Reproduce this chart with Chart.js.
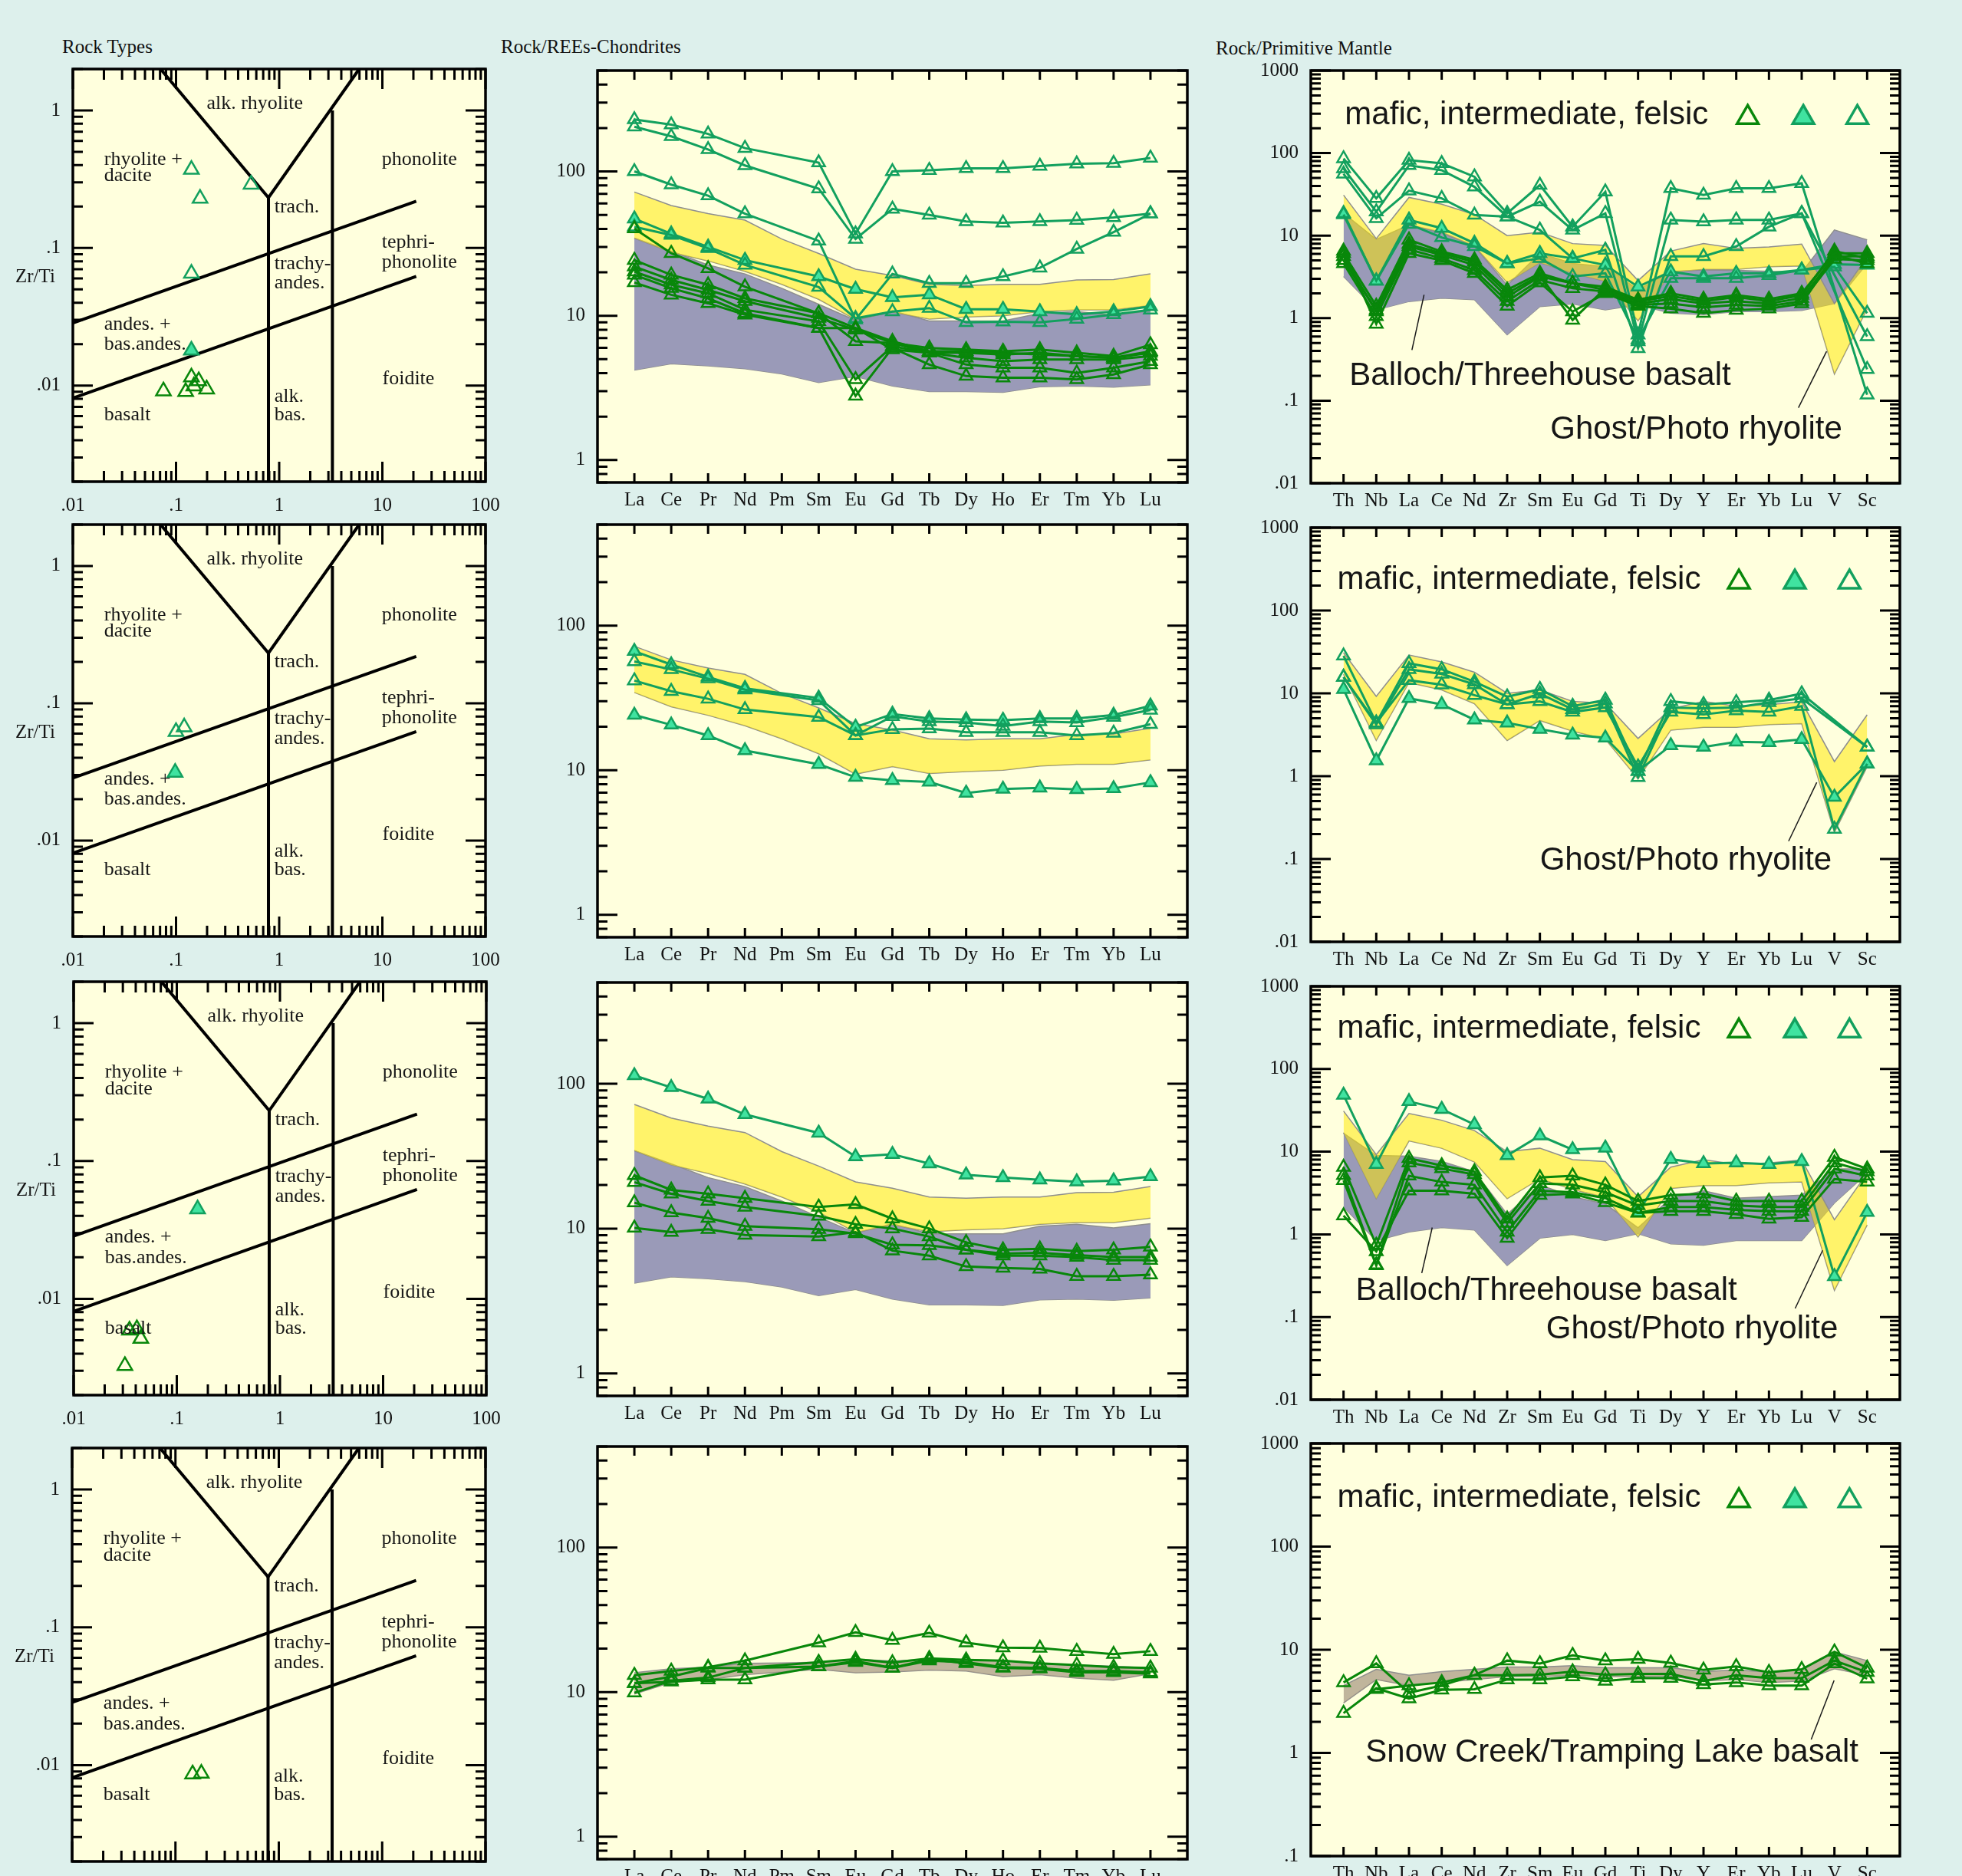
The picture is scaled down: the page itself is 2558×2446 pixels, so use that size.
<!DOCTYPE html>
<html lang="en">
<head>
<meta charset="UTF-8">
<title>Rock types, REE and primitive mantle diagrams</title>
<script src="https://cdn.jsdelivr.net/npm/chart.js"></script>
<style>
  body { margin: 0; background: #ddf0ec; }
  #page { position: relative; width: 2558px; height: 2446px; overflow: hidden; background: #ddf0ec; }
  canvas { position: absolute; }
  .ttl { position: absolute; font: 25px "Liberation Serif", serif; color: #111; white-space: nowrap; line-height: 1; }
</style>
</head>
<body>
<div id="page">
  <div class="ttl" style="left:81px;top:48px">Rock Types</div>
  <div class="ttl" style="left:653px;top:48px">Rock/REEs-Chondrites</div>
  <div class="ttl" style="left:1585px;top:50px">Rock/Primitive Mantle</div>
</div>
<script>
// ---- categories ----
const REE = ['La', 'Ce', 'Pr', 'Nd', 'Pm', 'Sm', 'Eu', 'Gd', 'Tb', 'Dy', 'Ho', 'Er', 'Tm', 'Yb', 'Lu'];
const SPIDER = ['Th', 'Nb', 'La', 'Ce', 'Nd', 'Zr', 'Sm', 'Eu', 'Gd', 'Ti', 'Dy', 'Y', 'Er', 'Yb', 'Lu', 'V', 'Sc'];

// ---- Rock types (Nb/Y vs Zr/Ti) ----
const fieldX = [[0.0708, 0.787, 5.96], [0.787, 0.787], [3.28, 3.28], [0.01, 21.3], [0.01, 21.3]];
const fieldY = [[2, 0.232, 2], [0.232, 0.002], [1.0, 0.002], [0.0285, 0.219], [0.0081, 0.0622]];

const r1FelsicX = [0.141, 0.171, 0.534, 0.141];
const r1FelsicY = [0.372, 0.229, 0.29, 0.0653];
const r1InterX = [0.141];
const r1InterY = [0.018];
const r1MaficX = [0.0755, 0.141, 0.166, 0.124, 0.149, 0.198];
const r1MaficY = [0.0091, 0.0115, 0.0108, 0.0090, 0.0099, 0.0094];
const r2FelsicX = [0.1, 0.12];
const r2FelsicY = [0.062, 0.067];
const r2InterX = [0.098];
const r2InterY = [0.0313];
const r3InterX = [0.159];
const r3InterY = [0.0448];
const r3MaficX = [0.0348, 0.041, 0.0448, 0.0314];
const r3MaficY = [0.0059, 0.00605, 0.00514, 0.00327];
const r4MaficX = [0.1465, 0.178];
const r4MaficY = [0.0086, 0.0087];

// ---- REE fields (chondrite normalised) ----
const reeYellowHi = [72, 58, 51, 46, 34, 27, 21, 19, 16.5, 16.2, 16.5, 16.5, 17.7, 17.8, 19.5];
const reeYellowLo = [34.5, 27.5, 24, 20.3, 16.5, 13, 9.4, 10.6, 9.5, 9.8, 10, 10.7, 11, 11, 11.8];
const reePurpleHi = [34.5, 28, 22.5, 19.5, 15.5, 12, 9.3, 10.8, 9.2, 9.2, 9.2, 10.4, 10.7, 10.1, 10.8];
const reePurpleLo = [4.2, 4.65, 4.5, 4.3, 3.95, 3.45, 3.8, 3.26, 2.98, 2.98, 2.95, 3.22, 3.26, 3.2, 3.32];
const reeTanHi = [13.6, 14.5, 14.9, 15.8, 15.9, 16.1, 16.9, 16.4, 16.9, 16.8, 16.5, 15.6, 15.4, 15.1, 14.7];
const reeTanLo = [9.7, 11.7, 12.2, 13.2, 13.8, 14.4, 13.6, 13.8, 14.2, 14.0, 12.8, 13.2, 12.5, 12.1, 13.4];

// ---- REE samples ----
const ree1Felsic = [
  [229, 211, 182, 145, null, 115, 37, 100, 102, 105, 105, 109, 113, 114, 124],
  [204, 175, 142, 110, null, 76, 34, 55, 50, 45, 44, 45, 46, 48, 51],
  [100, 81, 68, 51, null, 33, 9.4, 19.5, 16.8, 16.8, 18.7, 21.5, 29, 38, 51],
  [41.3, 36.2, 29.3, 22.5, null, 15.8, 9.6, 10.7, 11.3, 9.0, 9.1, 9.0, 9.5, 10.2, 11.0]
];
const ree1Inter = [
  [47, 37, 30, 24.3, null, 18.7, 15.3, 13.4, 14, 11.1, 11.1, 10.7, 10.2, 10.7, 11.6]
];
const ree1Mafic = [
  [40.2, 27.1, 21.3, 15.9, null, 10.4, 6.65, 6.48, 5.98, 5.83, 5.68, 5.83, 5.53, 5.25, 6.31],
  [24.3, 19.2, 16.4, 13.2, null, 10.4, 8.22, 6.65, 5.68, 5.68, 5.53, 5.38, 5.25, 5.11, 5.53],
  [21.9, 17.7, 15.1, 12.6, null, 9.64, 8.0, 6.48, 5.53, 5.11, 4.84, 4.97, 4.97, 4.97, 5.25],
  [20.2, 16.4, 14.3, 11.0, null, 9.14, 3.62, 6.14, 5.53, 4.59, 4.36, 4.36, 4.02, 4.36, 4.84],
  [19.2, 15.5, 13.2, 10.4, null, 8.22, 2.78, 5.98, 4.59, 3.82, 3.72, 3.72, 3.62, 3.92, 4.59],
  [17.0, 13.96, 12.2, 10.16, null, 8.22, 8.22, 5.83, 5.53, 5.53, 5.38, 5.53, 5.25, 5.11, 5.68]
];
const ree2Felsic = [
  [56.5, 49.8, 43, 36.1, null, 30.4, 17.4, 23.6, 21.7, 21.4, 20.2, 21.7, 21.4, 23.3, 26.1],
  [41.7, 35.2, 31.2, 26.3, null, 23.3, 17.4, 19.2, 19.4, 18.3, 18.3, 18.3, 17.4, 18.1, 20.8]
];
const ree2Inter = [
  [66.6, 53.8, 44.2, 36.9, null, 31.6, 19.9, 24.5, 22.8, 22.4, 22.2, 22.8, 22.8, 24.1, 27.9],
  [24.1, 20.6, 17.4, 13.7, null, 11.0, 8.95, 8.52, 8.3, 6.96, 7.41, 7.55, 7.37, 7.48, 8.24]
];
const ree3Inter = [
  [114, 94.3, 78.6, 61.4, null, 45.7, 31.4, 32.6, 28.1, 23.5, 22.5, 21.7, 21.1, 21.4, 22.9]
];
const ree3Mafic = [
  [23.3, 18.5, 17.4, 16.2, null, 14.1, 14.7, 11.7, 10, 8.03, 7.14, 7.24, 6.98, 7.14, 7.48],
  [20.9, 17.4, 15.5, 14.1, null, 12.2, 10.7, 10, 8.8, 7.14, 6.72, 6.8, 6.56, 6.36, 6.36],
  [15.1, 12.9, 11.8, 10.4, null, 9.9, 9.24, 7.73, 7.66, 7.14, 6.5, 6.5, 6.36, 6.06, 6.06],
  [10.1, 9.45, 9.9, 9.02, null, 8.8, 9.45, 7.04, 6.5, 5.47, 5.35, 5.27, 4.69, 4.69, 4.8]
];
const ree4Mafic = [
  [13.1, 14.0, 14.9, 16.5, null, 22.0, 25.9, 22.9, 25.7, 22.0, 20.3, 20.2, 19.2, 18.3, 19.2],
  [11.5, 12.8, 14.7, 14.7, null, 16.1, 16.9, 16.0, 17.1, 16.7, 16.5, 15.8, 15.4, 14.9, 14.7],
  [9.9, 12.0, 12.6, 14.7, null, 15.0, 16.4, 14.7, 16.5, 16.1, 14.9, 14.7, 14.0, 14.0, 13.7],
  [11.5, 11.8, 12.2, 12.2, null, 15.0, 16.1, 14.7, 16.9, 15.8, 14.7, 14.5, 13.7, 13.7, 13.4]
];

// ---- primitive mantle fields ----
const spYellowHi = [31, 9.2, 29, 24, 18, 10, 11, 8, 7.6, 2.85, 6.5, 8, 7, 7.3, 7.9, 1.5, 5.5];
const spYellowLo = [17, 2.7, 13.5, 11, 7.5, 2.7, 4.7, 3.5, 2.8, 0.93, 3.6, 3.9, 3.9, 4.2, 4.3, 0.21, 1.3];
const spPurple1Hi = [18.6, 9, 13.5, 10.7, 7.4, 2.5, 6.1, 4.6, 4.2, 2.2, 3.67, 3.84, 3.8, 3.7, 3.6, 11.7, 8.9];
const spPurple1Lo = [3.19, 1.26, 1.59, 1.75, 1.67, 0.63, 1.38, 1.49, 1.26, 1.45, 1.15, 1.1, 1.2, 1.2, 1.24, 1.5, 4.6];
const spPurple3Hi = [16.7, 9, 8.8, 7.65, 5.74, 1.75, 3.97, 2.86, 2.33, 1.2, 2.74, 3.37, 2.74, 2.86, 2.98, 6.2, 6.2];
const spPurple3Lo = [2.14, 0.84, 1.07, 1.21, 1.13, 0.42, 0.9, 1.0, 0.84, 1.02, 0.77, 0.74, 0.84, 0.84, 0.84, 2.4, 5.5];
const spTanHi = [4.5, 6.46, 5.67, 6.13, 6.46, 6.8, 6.8, 7.0, 6.7, 6.7, 6.7, 6.13, 6.37, 6.05, 6.37, 9.55, 7.85];
const spTanLo = [3.05, 5.14, 4.5, 4.82, 5.14, 5.5, 5.5, 5.67, 5.5, 5.5, 5.57, 4.97, 5.14, 4.82, 4.97, 6.55, 5.67];

// ---- primitive mantle samples ----
const sp1Felsic = [
  [86, 28.3, 82, 75, 51.7, 18.6, 41, 12.8, 34, 0.63, 37.4, 31, 37.4, 37.4, 43, null, 0.118],
  [65, 19.5, 71, 62, 39, 17, 25.7, 11.7, 18.6, 0.52, 15.5, 14.8, 15.5, 15.5, 18.6, null, 0.24],
  [56, 16.2, 35, 28.3, 17.8, 17, 11.7, 5.3, 6.7, 0.43, 5.6, 5.6, 7.4, 12.8, 18.6, null, 0.6],
  [18, 2.83, 13.8, 9.5, 7.4, 4.6, 5.3, 3.2, 3.5, 0.55, 3.04, 3.04, 3.04, 3.3, 3.84, 4.2, 1.15]
];
const sp1Inter = [
  [18.6, 2.83, 15.5, 12.3, 8.1, 4.6, 6.1, 5.3, 4.4, 2.4, 3.66, 3.2, 3.5, 3.5, 3.84, 4.5, 4.4]
];
const sp1Mafic = [
  [6.1, 1.4, 8.9, 6.4, 5.1, 2.2, 3.5, 2.65, 2.4, 1.67, 2.0, 1.7, 1.9, 1.7, 2.0, 6.1, 6.1],
  [5.6, 1.2, 7.4, 5.8, 4.4, 1.8, 3.2, 2.65, 2.2, 1.5, 1.7, 1.5, 1.6, 1.5, 1.75, 5.6, 5.6],
  [4.6, 1.05, 6.8, 5.3, 3.8, 1.6, 2.9, 2.3, 2.1, 1.45, 1.5, 1.35, 1.45, 1.4, 1.6, 5.2, 5.0],
  [6.5, 0.85, 6.1, 5.0, 3.5, 1.4, 2.7, 1.2, 2.0, 1.4, 1.3, 1.15, 1.25, 1.3, 1.5, 5.8, 4.6],
  [5.0, 1.25, 7.9, 6.1, 4.8, 2.0, 3.3, 0.95, 2.3, 1.6, 1.85, 1.6, 1.8, 1.6, 1.9, 6.5, 5.3]
];
const sp2Felsic = [
  [28.4, 4.4, 23, 19.5, 13.8, 9.1, 11.2, 7.0, 8.3, 1.15, 8.0, 7.35, 7.8, 8.3, 9.9, null, 2.25],
  [15.7, 4.2, 19.5, 17.1, 12.8, 7.35, 9.9, 6.4, 7.5, 0.97, 6.75, 6.6, 6.75, 7.8, 8.7, null, 2.25],
  [15.7, 4.4, 14.4, 12.7, 9.5, 7.35, 8.0, 5.95, 6.75, 1.3, 5.95, 5.55, 6.2, 5.95, 7.0, 0.23, 1.41]
];
const sp2Inter = [
  [11.2, 1.54, 8.7, 7.35, 4.8, 4.4, 3.7, 3.15, 2.9, 1.15, 2.35, 2.25, 2.6, 2.55, 2.78, 0.56, 1.41]
];
const sp3Inter = [
  [48.5, 7.05, 40.5, 32.7, 21.3, 9.0, 15.6, 10.6, 11.1, 1.82, 8.1, 7.2, 7.35, 7.05, 7.65, 0.31, 1.85]
];
const sp3Mafic = [
  [6.5, 0.74, 8.3, 6.8, 5.74, 1.54, 4.87, 5.1, 3.97, 2.53, 2.98, 3.1, 2.53, 2.53, 2.53, 8.6, 6.2],
  [5.2, 0.43, 7.35, 6.25, 5.3, 1.37, 4.14, 3.97, 3.23, 2.23, 2.53, 2.53, 2.23, 2.14, 2.14, 7.35, 5.74],
  [4.5, 0.42, 5.1, 4.3, 3.97, 1.07, 3.37, 3.23, 2.74, 1.82, 2.14, 2.14, 1.98, 1.9, 1.9, 6.2, 5.1],
  [1.68, 0.62, 3.37, 3.37, 3.1, 0.9, 2.98, 3.1, 2.43, 1.82, 1.9, 1.9, 1.75, 1.54, 1.61, 4.67, 4.3]
];
const sp4Mafic = [
  [4.82, 7.36, 3.83, 4.5, 5.67, 7.85, 7.36, 8.84, 7.85, 8.1, 7.45, 6.37, 6.89, 6.05, 6.46, 9.55, 6.67],
  [2.43, 4.23, 3.36, 4.09, 4.14, 5.14, 5.14, 5.5, 4.97, 5.3, 5.3, 4.6, 4.82, 4.5, 4.5, 7.36, 5.24],
  [null, 4.14, 4.5, 4.82, 5.67, 5.67, 5.74, 6.13, 5.74, 5.84, 5.84, 4.97, 5.67, 5.3, 5.3, 7.85, 6.05]
];

// ---- styles ----
const SERIF = '"Liberation Serif", "DejaVu Serif", serif';
const SANS = '"Liberation Sans", Arial, sans-serif';
const PLOT_BG = '#ffffdd';
const MAFIC = '#08870a';
const FELSIC = '#12a05e';
const INTER_FILL = '#40e3a0';
const EDGE = '#8e8e8e';
const YELLOW = 'rgba(255, 232, 0, 0.52)';
const PURPLE = '#9a9ab8';
const TAN = 'rgba(168, 152, 130, 0.72)';
const PAD = { 1: { l: 95, r: 45 }, 2: { l: 100, r: 20 }, 3: { l: 120, r: 40 } };
// the y axis asks for half a label plus its padding above the plot, so keep PT above that
const PT = 36, PB = 60;

function fmtPow(v) {
  const e = Math.round(Math.log10(v));
  return e < 0 ? '.' + '0'.repeat(-e - 1) + '1' : String(Math.pow(10, e));
}

function logSteps(min, max) {
  const out = [];
  for (let e = Math.floor(Math.log10(min)); e <= Math.ceil(Math.log10(max)); e++) {
    for (let m = 1; m <= 9; m++) {
      const v = m * Math.pow(10, e);
      if (v >= min * 0.9999 && v <= max * 1.0001) out.push({ v, major: m === 1 });
    }
  }
  return out;
}

function triangle(ctx, x, y, r) {
  ctx.beginPath();
  for (let k = 0; k < 3; k++) {
    const ang = k * 2 * Math.PI / 3;
    ctx.lineTo(x + Math.sin(ang) * r, y - Math.cos(ang) * r);
  }
  ctx.closePath();
}

const deco = {
  id: 'deco',
  beforeDraw(chart) {
    const a = chart.chartArea, ctx = chart.ctx;
    ctx.save();
    ctx.fillStyle = PLOT_BG;
    ctx.fillRect(a.left, a.top, a.right - a.left, a.bottom - a.top);
    ctx.restore();
  },
  afterDatasetsDraw(chart) {
    const d = chart.canvas.deco;
    const ctx = chart.ctx, xs = chart.scales.x, ys = chart.scales.y, a = chart.chartArea;
    ctx.save();
    ctx.fillStyle = '#161616';
    ctx.textAlign = 'left';
    ctx.textBaseline = 'middle';
    if (d.zones) {
      ctx.font = '26px ' + SERIF;
      d.zones.forEach(z => ctx.fillText(z[0], xs.getPixelForValue(z[1]), ys.getPixelForValue(z[2])));
    }
    if (d.yTitle) {
      ctx.font = '25px ' + SERIF;
      ctx.fillText(d.yTitle[0], a.left - 75, ys.getPixelForValue(d.yTitle[1]));
    }
    if (d.notes) {
      ctx.font = '42px ' + SANS;
      ctx.strokeStyle = '#1a1a1a';
      ctx.lineWidth = 1.5;
      d.notes.forEach(n => {
        ctx.fillText(n.t, xs.getPixelForValue(n.x), ys.getPixelForValue(n.y));
        ctx.beginPath();
        ctx.moveTo(xs.getPixelForValue(n.line[0]), ys.getPixelForValue(n.line[1]));
        ctx.lineTo(xs.getPixelForValue(n.line[2]), ys.getPixelForValue(n.line[3]));
        ctx.stroke();
      });
    }
    if (d.legend) {
      const L = d.legend, py = ys.getPixelForValue(L.y);
      ctx.font = '42px ' + SANS;
      ctx.fillText('mafic, intermediate, felsic', xs.getPixelForValue(L.x), py);
      const looks = [[MAFIC, null], [FELSIC, INTER_FILL], [FELSIC, null]];
      ctx.lineWidth = 3.5;
      L.marks.forEach((mx, k) => {
        triangle(ctx, xs.getPixelForValue(mx), py + 3, 16);
        if (looks[k][1]) { ctx.fillStyle = looks[k][1]; ctx.fill(); }
        ctx.strokeStyle = looks[k][0];
        ctx.stroke();
      });
    }
    ctx.restore();
  },
  afterDraw(chart) {
    const d = chart.canvas.deco;
    const ctx = chart.ctx, xs = chart.scales.x, ys = chart.scales.y, a = chart.chartArea;
    ctx.save();
    ctx.strokeStyle = '#000';
    ctx.lineWidth = 3;
    ctx.beginPath();
    if (d.xLog) {
      logSteps(xs.min, xs.max).forEach(t => {
        const px = xs.getPixelForValue(t.v), len = t.major ? 26 : 14;
        ctx.moveTo(px, a.bottom); ctx.lineTo(px, a.bottom - len);
        ctx.moveTo(px, a.top); ctx.lineTo(px, a.top + len);
      });
    } else {
      for (let i = 0; i < d.n; i++) {
        const px = xs.getPixelForValue(i);
        ctx.moveTo(px, a.bottom); ctx.lineTo(px, a.bottom - 12);
        ctx.moveTo(px, a.top); ctx.lineTo(px, a.top + 12);
      }
    }
    logSteps(ys.min, ys.max).forEach(t => {
      const py = ys.getPixelForValue(t.v), len = t.major ? 26 : 13;
      ctx.moveTo(a.left, py); ctx.lineTo(a.left + len, py);
      ctx.moveTo(a.right, py); ctx.lineTo(a.right - len, py);
    });
    ctx.stroke();
    ctx.lineWidth = 3.5;
    ctx.strokeRect(a.left, a.top, a.right - a.left, a.bottom - a.top);
    ctx.restore();
  }
};
Chart.register(deco);

const page = document.getElementById('page');

function makeCanvas(col, box) {
  const c = document.createElement('canvas');
  const p = PAD[col];
  c.width = box[2] - box[0] + p.l + p.r;
  c.height = box[3] - box[1] + PT + PB;
  c.style.left = (box[0] - p.l) + 'px';
  c.style.top = (box[1] - PT) + 'px';
  page.appendChild(c);
  return c;
}

function tickFont() {
  return { family: SERIF, size: 25 };
}

function yLog(min, max, majors, width) {
  return {
    type: 'logarithmic', min, max,
    afterBuildTicks: s => { s.ticks = majors.map(v => ({ value: v })); },
    afterFit: s => { s.width = width; },
    grid: { display: false, drawTicks: false }, border: { display: false },
    ticks: { callback: v => fmtPow(v), padding: 16, color: '#111', font: tickFont(), autoSkip: false }
  };
}

function xElements(labels) {
  return {
    type: 'linear', min: -1, max: labels.length,
    afterBuildTicks: s => { s.ticks = labels.map((_, i) => ({ value: i })); },
    afterFit: s => { s.height = PB; },
    grid: { display: false, drawTicks: false }, border: { display: false },
    ticks: { callback: v => labels[v], padding: 8, color: '#111', font: tickFont(), autoSkip: false, maxRotation: 0 }
  };
}

function xLogRock() {
  return {
    type: 'logarithmic', min: 0.01, max: 100,
    afterBuildTicks: s => { s.ticks = [0.01, 0.1, 1, 10, 100].map(v => ({ value: v })); },
    afterFit: s => { s.height = PB; },
    grid: { display: false, drawTicks: false }, border: { display: false },
    ticks: { callback: v => fmtPow(v), padding: 16, color: '#111', font: tickFont(), autoSkip: false, maxRotation: 0 }
  };
}

function sampleLine(vals, group) {
  const stroke = group === 'mafic' ? MAFIC : FELSIC;
  return {
    data: vals.map((v, i) => ({ x: i, y: v })),
    showLine: true, spanGaps: true,
    borderColor: stroke, borderWidth: 3,
    pointStyle: 'triangle', pointRadius: 9.5,
    pointBorderColor: stroke, pointBorderWidth: 2.5,
    pointBackgroundColor: group === 'inter' ? INTER_FILL : 'rgba(0,0,0,0)',
    order: 1
  };
}

function band(hi, lo, color, order) {
  return [
    { data: hi.map((v, i) => ({ x: i, y: v })), showLine: true, borderColor: EDGE, borderWidth: 1.5,
      pointRadius: 0, fill: '+1', backgroundColor: color, order },
    { data: lo.map((v, i) => ({ x: i, y: v })), showLine: true, borderColor: EDGE, borderWidth: 1.5,
      pointRadius: 0, fill: false, order }
  ];
}

function scatterPts(xv, yv, group) {
  const stroke = group === 'mafic' ? MAFIC : FELSIC;
  return {
    data: xv.map((x, i) => ({ x, y: yv[i] })),
    pointStyle: 'triangle', pointRadius: 11,
    pointBorderColor: stroke, pointBorderWidth: 2.5,
    pointBackgroundColor: group === 'inter' ? INTER_FILL : 'rgba(0,0,0,0)',
    order: 1
  };
}

function baseOptions(col, xScale, yScale) {
  return {
    responsive: false, animation: false, devicePixelRatio: 1, events: [],
    layout: { padding: { left: 0, top: PT, right: PAD[col].r, bottom: 0 } },
    plugins: { legend: { display: false }, tooltip: { enabled: false } },
    scales: { x: xScale, y: yScale }
  };
}

const zoneLabels = [
  ['alk. rhyolite', 0.198, 1.118], ['rhyolite +', 0.0201, 0.44], ['dacite', 0.0201, 0.333],
  ['trach.', 0.898, 0.199], ['phonolite', 9.86, 0.44], ['tephri-', 9.86, 0.109],
  ['phonolite', 9.86, 0.078], ['trachy-', 0.898, 0.077], ['andes.', 0.898, 0.0552],
  ['andes. +', 0.0201, 0.0278], ['bas.andes.', 0.0201, 0.0199], ['foidite', 10, 0.0111],
  ['alk.', 0.898, 0.00828], ['bas.', 0.898, 0.00608], ['basalt', 0.0201, 0.00608]
];

function rockChart(box, groups) {
  const c = makeCanvas(1, box);
  c.deco = { zones: zoneLabels, yTitle: ['Zr/Ti', 0.061], xLog: true };
  const sets = fieldX.map((xv, k) => ({
    data: xv.map((x, i) => ({ x, y: fieldY[k][i] })),
    showLine: true, borderColor: '#000', borderWidth: 4, pointRadius: 0, order: 5
  }));
  groups.forEach(g => sets.push(scatterPts(g[0], g[1], g[2])));
  new Chart(c, { type: 'scatter', data: { datasets: sets },
    options: baseOptions(1, xLogRock(), yLog(0.002, 2, [0.01, 0.1, 1], PAD[1].l)) });
}

function reeChart(box, bands, lines) {
  const c = makeCanvas(2, box);
  c.deco = { n: REE.length };
  let sets = [];
  lines.forEach(g => g[0].forEach(v => sets.push(sampleLine(v, g[1]))));
  bands.forEach(b => { sets = sets.concat(band(b[0], b[1], b[2], b[3])); });
  new Chart(c, { type: 'scatter', data: { datasets: sets },
    options: baseOptions(2, xElements(REE), yLog(0.7, 500, [1, 10, 100], PAD[2].l)) });
}

function spiderChart(box, ymin, bands, lines, extra) {
  const c = makeCanvas(3, box);
  c.deco = Object.assign({ n: SPIDER.length }, extra);
  let sets = [];
  lines.forEach(g => g[0].forEach(v => sets.push(sampleLine(v, g[1]))));
  bands.forEach(b => { sets = sets.concat(band(b[0], b[1], b[2], b[3])); });
  const majors = [0.01, 0.1, 1, 10, 100, 1000].filter(v => v >= ymin);
  new Chart(c, { type: 'scatter', data: { datasets: sets },
    options: baseOptions(3, xElements(SPIDER), yLog(ymin, 1000, majors, PAD[3].l)) });
}

// ---- row 1 ----
rockChart([95, 90, 633, 628], [[r1FelsicX, r1FelsicY, 'felsic'], [r1InterX, r1InterY, 'inter'], [r1MaficX, r1MaficY, 'mafic']]);
reeChart([779, 92, 1548, 629],
  [[reePurpleHi, reePurpleLo, PURPLE, 30], [reeYellowHi, reeYellowLo, YELLOW, 20]],
  [[ree1Mafic, 'mafic'], [ree1Felsic, 'felsic'], [ree1Inter, 'inter']]);
spiderChart([1709, 92, 2477, 630], 0.01,
  [[spPurple1Hi, spPurple1Lo, PURPLE, 30], [spYellowHi, spYellowLo, YELLOW, 20]],
  [[sp1Mafic, 'mafic'], [sp1Felsic, 'felsic'], [sp1Inter, 'inter']],
  { legend: { x: 0.04, y: 288, marks: [12.35, 14.05, 15.7] },
    notes: [{ t: 'Balloch/Threehouse basalt', x: 0.18, y: 0.2, line: [2.09, 0.41, 2.46, 1.92] },
            { t: 'Ghost/Photo rhyolite', x: 6.32, y: 0.0446, line: [13.9, 0.082, 14.76, 0.395] }] });

// ---- row 2 ----
rockChart([95, 684, 633, 1221], [[r2FelsicX, r2FelsicY, 'felsic'], [r2InterX, r2InterY, 'inter']]);
reeChart([779, 684, 1548, 1222],
  [[reeYellowHi, reeYellowLo, YELLOW, 20]],
  [[ree2Felsic, 'felsic'], [ree2Inter, 'inter']]);
spiderChart([1709, 688, 2477, 1228], 0.01,
  [[spYellowHi, spYellowLo, YELLOW, 20]],
  [[sp2Felsic, 'felsic'], [sp2Inter, 'inter']],
  { legend: { x: -0.19, y: 235, marks: [12.08, 13.79, 15.46] },
    notes: [{ t: 'Ghost/Photo rhyolite', x: 6.0, y: 0.0946, line: [13.6, 0.164, 14.46, 0.84] }] });

// ---- row 3 ----
rockChart([96, 1280, 634, 1819], [[r3InterX, r3InterY, 'inter'], [r3MaficX, r3MaficY, 'mafic']]);
reeChart([779, 1281, 1548, 1820],
  [[reePurpleHi, reePurpleLo, PURPLE, 30], [reeYellowHi, reeYellowLo, YELLOW, 20]],
  [[ree3Mafic, 'mafic'], [ree3Inter, 'inter']]);
spiderChart([1709, 1286, 2477, 1825], 0.01,
  [[spPurple3Hi, spPurple3Lo, PURPLE, 30], [spYellowHi, spYellowLo, YELLOW, 20]],
  [[sp3Mafic, 'mafic'], [sp3Inter, 'inter']],
  { legend: { x: -0.19, y: 307, marks: [12.08, 13.79, 15.46] },
    notes: [{ t: 'Balloch/Threehouse basalt', x: 0.37, y: 0.207, line: [2.39, 0.34, 2.71, 1.21] },
            { t: 'Ghost/Photo rhyolite', x: 6.19, y: 0.071, line: [13.8, 0.127, 14.64, 0.64] }] });

// ---- row 4 ----
rockChart([94, 1888, 633, 2427], [[r4MaficX, r4MaficY, 'mafic']]);
reeChart([779, 1886, 1548, 2424],
  [[reeTanHi, reeTanLo, TAN, 20]],
  [[ree4Mafic, 'mafic']]);
spiderChart([1709, 1882, 2477, 2420], 0.1,
  [[spTanHi, spTanLo, TAN, 20]],
  [[sp4Mafic, 'mafic']],
  { legend: { x: -0.19, y: 293, marks: [12.08, 13.79, 15.46] },
    notes: [{ t: 'Snow Creek/Tramping Lake basalt', x: 0.67, y: 1.0, line: [14.29, 1.35, 14.99, 5.04] }] });
</script>
</body>
</html>
